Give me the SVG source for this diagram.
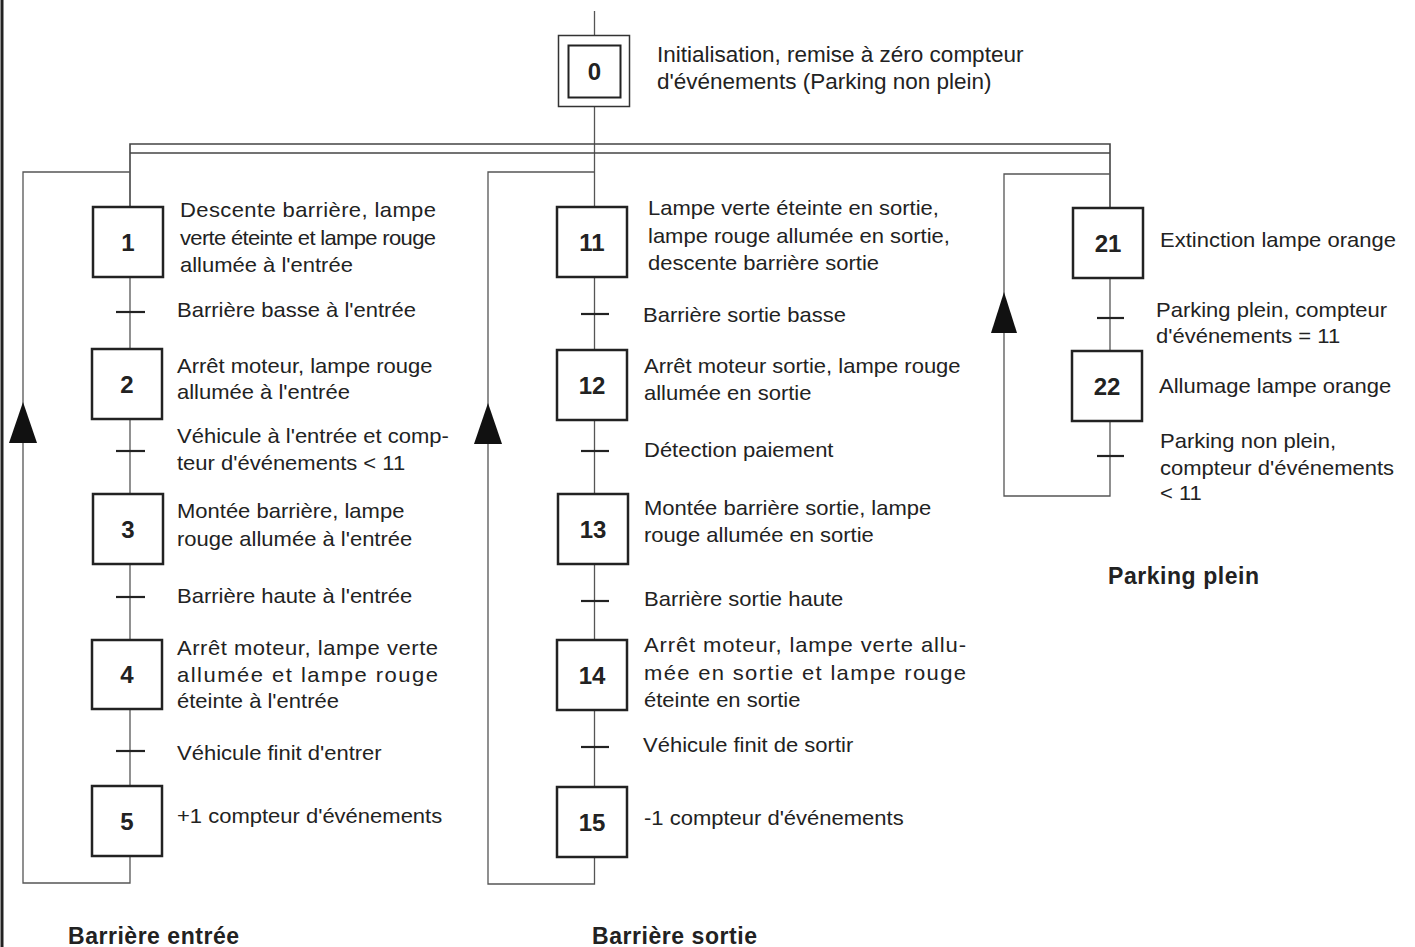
<svg xmlns="http://www.w3.org/2000/svg" width="1415" height="947" viewBox="0 0 1415 947">
<defs>
<style>
.bg{fill:#fff}
.c{stroke:#555;stroke-width:1.3;fill:none}
.dl{stroke:#444;stroke-width:1.6;fill:none}
.box{fill:#fff;stroke:#222;stroke-width:2.5}
.bar{stroke:#222;stroke-width:2.2}
.arr{fill:#111;stroke:none}
.t{font-family:"Liberation Sans",Arial,sans-serif;font-size:20px;fill:#222}
.t0{font-family:"Liberation Sans",Arial,sans-serif;font-size:22.5px;fill:#222}
.n{font-family:"Liberation Sans",Arial,sans-serif;font-size:24px;font-weight:bold;fill:#222;text-anchor:middle}
.b{font-family:"Liberation Sans",Arial,sans-serif;font-size:23px;font-weight:bold;fill:#222}
</style>
</defs>
<rect class="bg" x="0" y="0" width="1415" height="947"/>
<line x1="2" y1="0" x2="2" y2="947" stroke="#222" stroke-width="3"/>

<g id="connectors">
  <line class="c" x1="594.5" y1="11" x2="594.5" y2="36"/>
  <line class="c" x1="594.5" y1="107" x2="594.5" y2="207"/>
  <polyline class="dl" points="130,207 130,144 1110,144 1110,208"/>
  <line class="dl" x1="130" y1="153" x2="1110" y2="153"/>
  <line class="c" x1="130" y1="277" x2="130" y2="349"/>
  <line class="c" x1="130" y1="419" x2="130" y2="494"/>
  <line class="c" x1="130" y1="564" x2="130" y2="640"/>
  <line class="c" x1="130" y1="709" x2="130" y2="786"/>
  <polyline class="c" points="130,856 130,883 23,883 23,172 130,172"/>
  <path class="arr" d="M23,402 L37,443 L9,443 Z"/>
  <line class="bar" x1="116" y1="312" x2="145" y2="312"/>
  <line class="bar" x1="116" y1="451" x2="145" y2="451"/>
  <line class="bar" x1="116" y1="597" x2="145" y2="597"/>
  <line class="bar" x1="116" y1="751" x2="145" y2="751"/>
  <line class="c" x1="594.5" y1="277" x2="594.5" y2="350"/>
  <line class="c" x1="594.5" y1="420" x2="594.5" y2="494"/>
  <line class="c" x1="594.5" y1="564" x2="594.5" y2="640"/>
  <line class="c" x1="594.5" y1="710" x2="594.5" y2="787"/>
  <polyline class="c" points="594.5,857 594.5,884 488,884 488,172 594.5,172"/>
  <path class="arr" d="M488,403 L502,444 L474,444 Z"/>
  <line class="bar" x1="581" y1="314" x2="609" y2="314"/>
  <line class="bar" x1="581" y1="451" x2="609" y2="451"/>
  <line class="bar" x1="581" y1="601" x2="609" y2="601"/>
  <line class="bar" x1="581" y1="747" x2="609" y2="747"/>
  <line class="c" x1="1110" y1="278" x2="1110" y2="351"/>
  <polyline class="c" points="1110,421 1110,496 1004,496 1004,174 1110,174"/>
  <path class="arr" d="M1004,292 L1017,333 L991,333 Z"/>
  <line class="bar" x1="1097" y1="318" x2="1124" y2="318"/>
  <line class="bar" x1="1097" y1="456" x2="1124" y2="456"/>
</g>

<g id="step0">
  <rect x="558.5" y="35.5" width="71" height="71" fill="#fff" stroke="#333" stroke-width="1.5"/>
  <rect x="568.5" y="45.5" width="52" height="52" fill="#fff" stroke="#222" stroke-width="2"/>
  <text class="n" x="594.5" y="80">0</text>
  <text class="t0" x="657" y="62">Initialisation, remise à zéro compteur</text>
  <text class="t0" x="657" y="89">d'événements (Parking non plein)</text>
</g>

<g id="step1">
  <rect class="box" x="93" y="207" width="70" height="70"/>
  <text class="n" x="128" y="251">1</text>
  <text class="t" transform="translate(180,217) scale(1.1 1)" textLength="232.7">Descente barrière, lampe</text>
  <text class="t" transform="translate(180,245) scale(1.1 1)" textLength="232.7" lengthAdjust="spacing">verte éteinte et lampe rouge</text>
  <text class="t" transform="translate(180,272) scale(1.1 1)">allumée à l'entrée</text>
</g>
<g id="t1"><text class="t" transform="translate(177,317) scale(1.1 1)">Barrière basse à l'entrée</text></g>

<g id="step2">
  <rect class="box" x="92" y="349" width="70" height="70"/>
  <text class="n" x="127" y="393">2</text>
  <text class="t" transform="translate(177,373) scale(1.1 1)">Arrêt moteur, lampe rouge</text>
  <text class="t" transform="translate(177,399) scale(1.1 1)">allumée à l'entrée</text>
</g>
<g id="t2">
  <text class="t" transform="translate(177,443) scale(1.1 1)">Véhicule à l'entrée et comp-</text>
  <text class="t" transform="translate(177,470) scale(1.1 1)">teur d'événements &lt; 11</text>
</g>

<g id="step3">
  <rect class="box" x="93" y="494" width="70" height="70"/>
  <text class="n" x="128" y="538">3</text>
  <text class="t" transform="translate(177,518) scale(1.1 1)">Montée barrière, lampe</text>
  <text class="t" transform="translate(177,546) scale(1.1 1)">rouge allumée à l'entrée</text>
</g>
<g id="t3"><text class="t" transform="translate(177,603) scale(1.1 1)">Barrière haute à l'entrée</text></g>

<g id="step4">
  <rect class="box" x="92" y="640" width="70" height="69"/>
  <text class="n" x="127" y="683">4</text>
  <text class="t" transform="translate(177,655) scale(1.1 1)" textLength="237.3">Arrêt moteur, lampe verte</text>
  <text class="t" transform="translate(177,682) scale(1.1 1)" textLength="237.3">allumée et lampe rouge</text>
  <text class="t" transform="translate(177,708) scale(1.1 1)">éteinte à l'entrée</text>
</g>
<g id="t4"><text class="t" transform="translate(177,760) scale(1.1 1)">Véhicule finit d'entrer</text></g>

<g id="step5">
  <rect class="box" x="92" y="786" width="70" height="70"/>
  <text class="n" x="127" y="830">5</text>
  <text class="t" transform="translate(177,823) scale(1.1 1)">+1 compteur d'événements</text>
</g>
<text id="title-entree" class="b" x="68" y="944" textLength="171">Barrière entrée</text>

<g id="step11">
  <rect class="box" x="557" y="207" width="70" height="70"/>
  <text class="n" x="592" y="251">11</text>
  <text class="t" transform="translate(648,215) scale(1.1 1)">Lampe verte éteinte en sortie,</text>
  <text class="t" transform="translate(648,243) scale(1.1 1)">lampe rouge allumée en sortie,</text>
  <text class="t" transform="translate(648,270) scale(1.1 1)">descente barrière sortie</text>
</g>
<g id="t11"><text class="t" transform="translate(643,322) scale(1.1 1)">Barrière sortie basse</text></g>

<g id="step12">
  <rect class="box" x="557" y="350" width="70" height="70"/>
  <text class="n" x="592" y="394">12</text>
  <text class="t" transform="translate(644,373) scale(1.1 1)">Arrêt moteur sortie, lampe rouge</text>
  <text class="t" transform="translate(644,400) scale(1.1 1)">allumée en sortie</text>
</g>
<g id="t12"><text class="t" transform="translate(644,457) scale(1.1 1)">Détection paiement</text></g>

<g id="step13">
  <rect class="box" x="558" y="494" width="70" height="70"/>
  <text class="n" x="593" y="538">13</text>
  <text class="t" transform="translate(644,515) scale(1.1 1)">Montée barrière sortie, lampe</text>
  <text class="t" transform="translate(644,542) scale(1.1 1)">rouge allumée en sortie</text>
</g>
<g id="t13"><text class="t" transform="translate(644,606) scale(1.1 1)">Barrière sortie haute</text></g>

<g id="step14">
  <rect class="box" x="557" y="640" width="70" height="70"/>
  <text class="n" x="592" y="684">14</text>
  <text class="t" transform="translate(644,652) scale(1.1 1)" textLength="292.7">Arrêt moteur, lampe verte allu-</text>
  <text class="t" transform="translate(644,680) scale(1.1 1)" textLength="292.7">mée en sortie et lampe rouge</text>
  <text class="t" transform="translate(644,707) scale(1.1 1)">éteinte en sortie</text>
</g>
<g id="t14"><text class="t" transform="translate(643,752) scale(1.1 1)">Véhicule finit de sortir</text></g>

<g id="step15">
  <rect class="box" x="557" y="787" width="70" height="70"/>
  <text class="n" x="592" y="831">15</text>
  <text class="t" transform="translate(644,825) scale(1.1 1)">-1 compteur d'événements</text>
</g>
<text id="title-sortie" class="b" x="592" y="944" textLength="165">Barrière sortie</text>

<g id="step21">
  <rect class="box" x="1073" y="208" width="70" height="70"/>
  <text class="n" x="1108" y="252">21</text>
  <text class="t" transform="translate(1160,247) scale(1.1 1)">Extinction lampe orange</text>
</g>
<g id="t21">
  <text class="t" transform="translate(1156,317) scale(1.1 1)">Parking plein, compteur</text>
  <text class="t" transform="translate(1156,343) scale(1.1 1)">d'événements = 11</text>
</g>
<g id="step22">
  <rect class="box" x="1072" y="351" width="70" height="70"/>
  <text class="n" x="1107" y="395">22</text>
  <text class="t" transform="translate(1159,393) scale(1.1 1)">Allumage lampe orange</text>
</g>
<g id="t22">
  <text class="t" transform="translate(1160,448) scale(1.1 1)">Parking non plein,</text>
  <text class="t" transform="translate(1160,475) scale(1.1 1)">compteur d'événements</text>
  <text class="t" transform="translate(1160,500) scale(1.1 1)">&lt; 11</text>
</g>
<text id="title-plein" class="b" x="1108" y="584" textLength="151">Parking plein</text>
</svg>
